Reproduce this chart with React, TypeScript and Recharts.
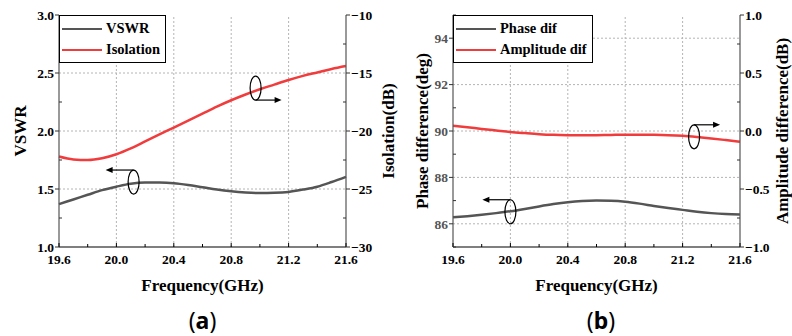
import React from "react";
import {
  LineChart,
  Line,
  XAxis,
  YAxis,
  Legend,
  ReferenceLine,
  ReferenceDot,
} from "recharts";

// frequency samples (GHz)
const freq = [
  19.6, 19.7, 19.8, 19.9, 20.0, 20.1, 20.2, 20.3, 20.4, 20.5, 20.6, 20.7, 20.8,
  20.9, 21.0, 21.1, 21.2, 21.3, 21.4, 21.5, 21.6,
];

// (a)
const vswr = [
  1.37, 1.41, 1.45, 1.49, 1.52, 1.545, 1.555, 1.555, 1.55, 1.535, 1.515, 1.495,
  1.48, 1.47, 1.465, 1.467, 1.475, 1.495, 1.52, 1.56, 1.605,
];
const isolation = [
  -22.2, -22.45, -22.5, -22.35, -22.0, -21.5, -20.9, -20.3, -19.7, -19.1, -18.5,
  -17.9, -17.35, -16.85, -16.4, -16.0, -15.6, -15.25, -14.95, -14.65, -14.4,
];

// (b)
const phaseDif = [
  86.28, 86.33, 86.39, 86.46, 86.54, 86.64, 86.75, 86.85, 86.93, 86.98, 87.0,
  86.99, 86.95, 86.87, 86.77, 86.68, 86.6, 86.52, 86.46, 86.42, 86.4,
];
const ampDif = [
  0.045, 0.032, 0.018, 0.005, -0.008, -0.018, -0.027, -0.033, -0.036, -0.037,
  -0.036, -0.034, -0.032, -0.032, -0.033, -0.036, -0.042, -0.052, -0.064,
  -0.078, -0.093,
];

// ticks
const freqTicks = [19.6, 19.8, 20.0, 20.2, 20.4, 20.6, 20.8, 21.0, 21.2, 21.4, 21.6];
const freqMajor = [19.6, 20.0, 20.4, 20.8, 21.2, 21.6];
const vswrTicks = [1.0, 1.25, 1.5, 1.75, 2.0, 2.25, 2.5, 2.75, 3.0];
const vswrMajor = [1.0, 1.5, 2.0, 2.5, 3.0];
const isoTicks = [-30, -27.5, -25, -22.5, -20, -17.5, -15, -12.5, -10];
const isoMajor = [-30, -25, -20, -15, -10];
const phaseTicks = [85, 86, 87, 88, 89, 90, 91, 92, 93, 94, 95];
const phaseMajor = [86, 88, 90, 92, 94];
const ampTicks = [-1.0, -0.75, -0.5, -0.25, 0.0, 0.25, 0.5, 0.75, 1.0];
const ampMajor = [-1.0, -0.5, 0.0, 0.5, 1.0];

const dataA = freq.map((f, i) => ({ f, vswr: vswr[i], iso: isolation[i] }));
const dataB = freq.map((f, i) => ({ f, phase: phaseDif[i], amp: ampDif[i] }));

const FONT = '"Liberation Serif", "Times New Roman", serif';
const TICK_SIZE = 13.5;
const TITLE_SIZE = 17;
const AXIS_GRAY = "#555";
const DARK = "#555555";
const RED = "#f03c3c";
const GRID = "#b4b4b4";

const fmt = (v: number, d: number) => {
  const s = Math.abs(v).toFixed(d);
  return v < 0 ? "\u2212" + s : s;
};
const isMajor = (v: number, arr: number[]) => arr.some((m) => Math.abs(m - v) < 1e-6);

type Side = "left" | "right" | "bottom" | "top";

function makeTick(side: Side, majors: number[], decimals: number, color = "#000") {
  return (props: any) => {
    const { x, y, payload } = props;
    const v = payload.value;
    const major = isMajor(v, majors);
    let line;
    let label = null;
    if (side === "left") {
      // majors out, minors in
      line = major ? (
        <line x1={x} y1={y} x2={x - 4} y2={y} stroke="#333" />
      ) : (
        <line x1={x} y1={y} x2={x + 3} y2={y} stroke="#333" />
      );
      if (major)
        label = (
          <text x={x - 5} y={y} dy="0.36em" textAnchor="end" fill={color}>
            {fmt(v, decimals)}
          </text>
        );
    } else if (side === "right") {
      line = major ? (
        <line x1={x} y1={y} x2={x + 4} y2={y} stroke="#333" />
      ) : (
        <line x1={x} y1={y} x2={x - 3} y2={y} stroke="#333" />
      );
      if (major)
        label = (
          <text x={x + 5} y={y} dy="0.36em" textAnchor="start" fill={color}>
            {fmt(v, decimals)}
          </text>
        );
    } else if (side === "bottom") {
      line = <line x1={x} y1={y} x2={x} y2={y - (major ? 4 : 3)} stroke="#000" />;
      if (major)
        label = (
          <text x={x} y={y + 17} textAnchor="middle" fill={color}>
            {fmt(v, decimals)}
          </text>
        );
    } else {
      line = <line x1={x} y1={y} x2={x} y2={y + (major ? 4 : 3)} stroke="#000" />;
    }
    return (
      <g style={{ fontFamily: FONT, fontWeight: "bold", fontSize: TICK_SIZE }}>
        {line}
        {label}
      </g>
    );
  };
}

const YTitle = (props: any) => {
  const { viewBox, value, dx } = props;
  const cx = viewBox.x + dx;
  const cy = viewBox.y + viewBox.height / 2;
  return (
    <text
      x={cx}
      y={cy}
      transform={`rotate(-90 ${cx} ${cy})`}
      textAnchor="middle"
      dominantBaseline="central"
      style={{ fontFamily: FONT, fontWeight: "bold", fontSize: TITLE_SIZE, fill: "#000" }}
    >
      {value}
    </text>
  );
};

const XTitle = (props: any) => {
  const { viewBox, value } = props;
  const cx = viewBox.x + viewBox.width / 2;
  return (
    <text
      x={cx}
      y={291}
      textAnchor="middle"
      style={{ fontFamily: FONT, fontWeight: "bold", fontSize: TITLE_SIZE, fill: "#000" }}
    >
      {value}
    </text>
  );
};

const BoxLegend = (props: any) => {
  const { payload, order } = props;
  const items = [...(payload || [])].sort(
    (a: any, b: any) => order.indexOf(a.value) - order.indexOf(b.value)
  );
  return (
    <div
      style={{
        border: "1.3px solid #000",
        background: "#fff",
        padding: "2px 5px 2px 2px",
        fontFamily: FONT,
        fontWeight: "bold",
        fontSize: 14.5,
        lineHeight: "21px",
      }}
    >
      {items.map((p: any) => (
        <div key={p.value} style={{ display: "flex", alignItems: "center", whiteSpace: "nowrap" }}>
          <span
            style={{
              display: "inline-block",
              width: 40,
              height: 0,
              borderTop: `2.5px solid ${p.color}`,
              marginRight: 4,
            }}
          />
          <span>{p.value}</span>
        </div>
      ))}
    </div>
  );
};

// ellipse marker with a direction arrow
const Marker = (dir: "left" | "right", arrowAt: "top" | "bottom") => (props: any) => {
  const { cx, cy } = props;
  const rx = 5.5;
  const ry = 12;
  const ay = arrowAt === "top" ? cy - ry : cy + ry;
  const ex = dir === "left" ? cx - 28 : cx + 26;
  const head =
    dir === "left"
      ? `${ex},${ay} ${ex + 7},${ay - 3} ${ex + 7},${ay + 3}`
      : `${ex},${ay} ${ex - 7},${ay - 3} ${ex - 7},${ay + 3}`;
  return (
    <g>
      <ellipse cx={cx} cy={cy} rx={rx} ry={ry} fill="none" stroke="#000" strokeWidth={1.2} />
      <line x1={cx} y1={ay} x2={dir === "left" ? ex + 5 : ex - 5} y2={ay} stroke="#000" strokeWidth={1.2} />
      <polygon points={head} fill="#000" />
    </g>
  );
};

const gridX = [20.0, 20.4, 20.8, 21.2];

function ChartA() {
  return (
    <LineChart width={400} height={336} data={dataA} margin={{ top: 15, right: 0, bottom: 39, left: 0 }}>
      <XAxis
        dataKey="f"
        type="number"
        domain={[19.6, 21.6]}
        ticks={freqTicks}
        interval={0}
        height={50}
        tickSize={0}
        tickMargin={0}
        tickLine={false}
        axisLine={{ stroke: "#000", strokeWidth: 1.2 }}
        tick={makeTick("bottom", freqMajor, 1)}
        label={<XTitle value="Frequency(GHz)" />}
      />
      <XAxis
        xAxisId="top"
        orientation="top"
        dataKey="f"
        type="number"
        domain={[19.6, 21.6]}
        ticks={freqTicks}
        interval={0}
        height={0}
        tickSize={0}
        tickMargin={0}
        tickLine={false}
        axisLine={{ stroke: "#000", strokeWidth: 1.2 }}
        tick={makeTick("top", freqMajor, 1)}
      />
      <YAxis
        yAxisId="left"
        type="number"
        domain={[1, 3]}
        ticks={vswrTicks}
        interval={0}
        width={59}
        tickSize={0}
        tickMargin={0}
        tickLine={false}
        axisLine={{ stroke: AXIS_GRAY, strokeWidth: 1.2 }}
        tick={makeTick("left", vswrMajor, 1)}
        label={<YTitle value="VSWR" dx={20} />}
      />
      <YAxis
        yAxisId="right"
        orientation="right"
        type="number"
        domain={[-30, -10]}
        ticks={isoTicks}
        interval={0}
        width={54}
        tickSize={0}
        tickMargin={0}
        tickLine={false}
        axisLine={{ stroke: AXIS_GRAY, strokeWidth: 1.2 }}
        tick={makeTick("right", isoMajor, 0)}
        label={<YTitle value="Isolation(dB)" dx={42} />}
      />
      {gridX.map((v) => (
        <ReferenceLine key={"x" + v} x={v} yAxisId="left" stroke={GRID} strokeDasharray="2 2" />
      ))}
      {[1.5, 2.0, 2.5].map((v) => (
        <ReferenceLine key={"y" + v} y={v} yAxisId="left" stroke={GRID} strokeDasharray="2 2" />
      ))}
      <Line yAxisId="left" type="monotone" dataKey="vswr" name="VSWR" stroke={DARK} strokeWidth={2.5} dot={false} isAnimationActive={false} />
      <Line yAxisId="right" type="monotone" dataKey="iso" name="Isolation" stroke={RED} strokeWidth={2.5} dot={false} isAnimationActive={false} />
      <ReferenceDot x={20.12} y={1.56} yAxisId="left" shape={Marker("left", "top")} />
      <ReferenceDot x={20.97} y={-16.3} yAxisId="right" shape={Marker("right", "bottom")} />
      <Legend
        layout="vertical"
        align="center"
        verticalAlign="middle"
        content={<BoxLegend order={["VSWR", "Isolation"]} />}
        wrapperStyle={{ left: 59, top: 15, width: "auto" }}
      />
    </LineChart>
  );
}

function ChartB() {
  return (
    <LineChart width={396} height={336} data={dataB} margin={{ top: 15, right: 0, bottom: 39, left: 0 }}>
      <XAxis
        dataKey="f"
        type="number"
        domain={[19.6, 21.6]}
        ticks={freqTicks}
        interval={0}
        height={50}
        tickSize={0}
        tickMargin={0}
        tickLine={false}
        axisLine={{ stroke: "#000", strokeWidth: 1.2 }}
        tick={makeTick("bottom", freqMajor, 1)}
        label={<XTitle value="Frequency(GHz)" />}
      />
      <XAxis
        xAxisId="top"
        orientation="top"
        dataKey="f"
        type="number"
        domain={[19.6, 21.6]}
        ticks={freqTicks}
        interval={0}
        height={0}
        tickSize={0}
        tickMargin={0}
        tickLine={false}
        axisLine={{ stroke: "#000", strokeWidth: 1.2 }}
        tick={makeTick("top", freqMajor, 1)}
      />
      <YAxis
        yAxisId="left"
        type="number"
        domain={[85, 95]}
        ticks={phaseTicks}
        interval={0}
        width={57}
        tickSize={0}
        tickMargin={0}
        tickLine={false}
        axisLine={{ stroke: AXIS_GRAY, strokeWidth: 1.2 }}
        tick={makeTick("left", phaseMajor, 0, "#555")}
        label={<YTitle value="Phase difference(deg)" dx={26} />}
      />
      <YAxis
        yAxisId="right"
        orientation="right"
        type="number"
        domain={[-1, 1]}
        ticks={ampTicks}
        interval={0}
        width={52}
        tickSize={0}
        tickMargin={0}
        tickLine={false}
        axisLine={{ stroke: AXIS_GRAY, strokeWidth: 1.2 }}
        tick={makeTick("right", ampMajor, 1)}
        label={<YTitle value="Amplitude difference(dB)" dx={42.5} />}
      />
      {gridX.map((v) => (
        <ReferenceLine key={"x" + v} x={v} yAxisId="left" stroke={GRID} strokeDasharray="2 2" />
      ))}
      {[86, 88, 90, 92, 94].map((v) => (
        <ReferenceLine key={"y" + v} y={v} yAxisId="left" stroke={GRID} strokeDasharray="2 2" />
      ))}
      <Line yAxisId="left" type="monotone" dataKey="phase" name="Phase dif" stroke={DARK} strokeWidth={2.5} dot={false} isAnimationActive={false} />
      <Line yAxisId="right" type="monotone" dataKey="amp" name="Amplitude dif" stroke={RED} strokeWidth={2.5} dot={false} isAnimationActive={false} />
      <ReferenceDot x={20.0} y={86.52} yAxisId="left" shape={Marker("left", "top")} />
      <ReferenceDot x={21.28} y={-0.05} yAxisId="right" shape={Marker("right", "top")} />
      <Legend
        layout="vertical"
        align="center"
        verticalAlign="middle"
        content={<BoxLegend order={["Phase dif", "Amplitude dif"]} />}
        wrapperStyle={{ left: 57, top: 15, width: "auto" }}
      />
    </LineChart>
  );
}

const Caption = ({ letter, cx }: { letter: string; cx: number }) => (
  <div
    style={{
      position: "absolute",
      left: cx - 30,
      top: 305,
      width: 60,
      textAlign: "center",
      fontFamily: '"Noto Sans", sans-serif',
      fontSize: 23,
      lineHeight: "30px",
      color: "#000",
    }}
  >
    (<b>{letter}</b>)
  </div>
);

export default function App() {
  return (
    <div style={{ position: "absolute", left: 0, top: 0, width: 792, height: 336, background: "#fff" }}>
      <div style={{ position: "absolute", left: 0, top: 0 }}>
        <ChartA />
      </div>
      <div style={{ position: "absolute", left: 396, top: 0 }}>
        <ChartB />
      </div>
      <Caption letter="a" cx={202.5} />
      <Caption letter="b" cx={601} />
    </div>
  );
}
